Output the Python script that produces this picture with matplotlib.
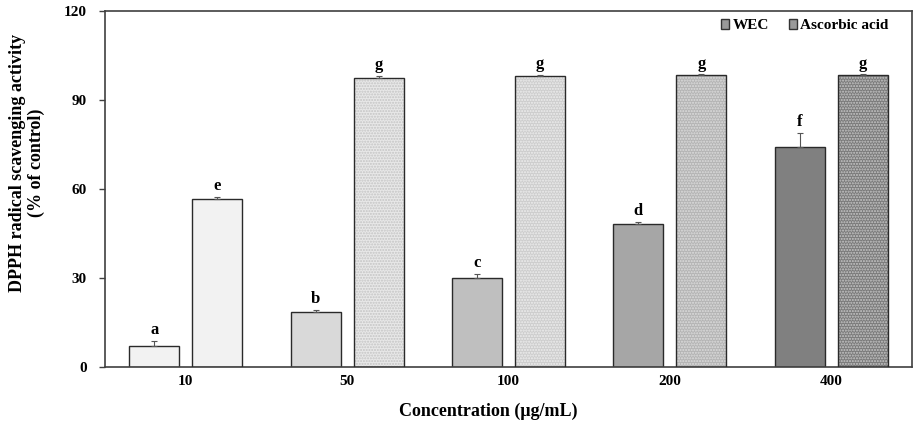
import matplotlib
matplotlib.use("Agg")
import matplotlib.pyplot as plt
import numpy as np
from matplotlib.patches import Patch

plt.rcParams['font.family'] = ['Liberation Serif', 'DejaVu Serif']
plt.rcParams['font.weight'] = 'bold'

categories = ['10', '50', '100', '200', '400']
wec = [7.1, 18.7, 30.0, 48.2, 74.1]
wec_err = [1.8, 0.6, 1.5, 0.8, 4.7]
aa = [56.6, 97.4, 98.0, 98.3, 98.3]
aa_err = [0.8, 0.6, 0.4, 0.3, 0.3]
wec_letters = ['a', 'b', 'c', 'd', 'f']
aa_letters = ['e', 'g', 'g', 'g', 'g']

wec_colors = ['#f2f2f2', '#d9d9d9', '#bfbfbf', '#a6a6a6', '#808080']
aa_face = ['#f2f2f2', '#e8e8e8', '#cdcdcd', '#b4b4b4', '#7a7a7a']
aa_dots = ['#f2f2f2', '#c4c4c4', '#eeeeee', '#dddddd', '#c8c8c8']
aa_hatch = [None, '......', '......', '......', '......']

fig = plt.figure(figsize=(9.17, 4.28), dpi=100)
ax = fig.add_axes([105/917, 61/428, 807/917, 356/428])

x = np.arange(len(categories))
w = 0.31
off = 0.195
edge = '#2a2a2a'

ax.bar(x - off, wec, w, color=wec_colors, edgecolor=edge, linewidth=1.0, zorder=2)
for i in range(len(categories)):
    ax.bar(x[i] + off, aa[i], w, color=aa_face[i], edgecolor=aa_dots[i],
           hatch=aa_hatch[i], linewidth=0, zorder=2)
ax.bar(x + off, aa, w, fill=False, edgecolor=edge, linewidth=1.0, zorder=3)

ax.errorbar(x - off, wec, yerr=[np.zeros(5), wec_err], fmt='none', ecolor='#555555',
            elinewidth=0.8, capsize=2.5, capthick=0.8, zorder=4)
ax.errorbar(x + off, aa, yerr=[np.zeros(5), aa_err], fmt='none', ecolor='#555555',
            elinewidth=0.8, capsize=2.5, capthick=0.8, zorder=4)

for i in range(len(categories)):
    ax.annotate(wec_letters[i], (x[i] - off, wec[i] + wec_err[i]), xytext=(0, 2),
                textcoords='offset points', ha='center', va='bottom', fontsize=12, fontweight='bold')
    ax.annotate(aa_letters[i], (x[i] + off, aa[i] + aa_err[i]), xytext=(0, 2),
                textcoords='offset points', ha='center', va='bottom', fontsize=12, fontweight='bold')

ax.set_xlim(-0.5, 4.5)
ax.set_ylim(0, 120)
ax.set_yticks([0, 30, 60, 90, 120])
ax.set_xticks(x)
ax.set_xticklabels(categories)
ax.tick_params(axis='x', length=0, pad=6, labelsize=11)
ax.tick_params(axis='y', length=4, width=1, direction='out', pad=9, labelsize=11, color='#404040')
for lab in ax.get_xticklabels() + ax.get_yticklabels():
    lab.set_fontweight('bold')
for s in ax.spines.values():
    s.set_color('#404040')
    s.set_linewidth(1.2)

fig.text(488/917, 1 - 411/428, 'Concentration (μg/mL)', ha='center', va='center',
         fontsize=13, fontweight='bold')
fig.text(27/917, 1 - 163/428, 'DPPH radical scavenging activity\n(% of control)', rotation=90,
         ha='center', va='center', fontsize=13, fontweight='bold', linespacing=1.15)

handles = [Patch(facecolor='#9a9a9a', edgecolor='#333333', linewidth=1, label='WEC'),
           Patch(facecolor='#9a9a9a', edgecolor='#333333', linewidth=1, label='Ascorbic acid')]
ax.legend(handles=handles, loc='upper right', ncol=2, frameon=False,
          handlelength=0.55, handleheight=0.55, handletextpad=0.2, columnspacing=1.3,
          bbox_to_anchor=(0.988, 1.015), prop={'weight': 'bold', 'size': 11})

fig.savefig('out.png', dpi=100)
